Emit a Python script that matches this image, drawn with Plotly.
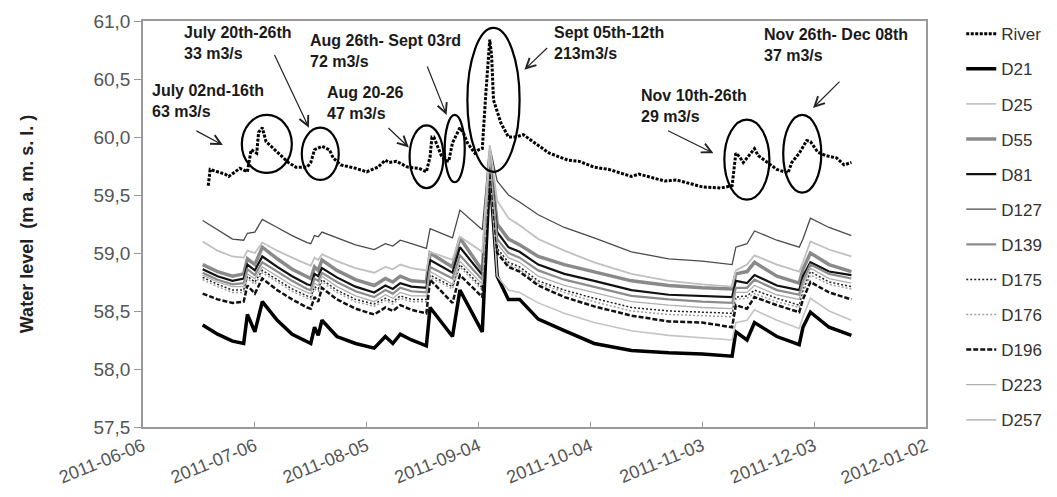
import plotly.graph_objects as go

# ---------------- data ----------------
dates = ["2011-06-22","2011-06-26","2011-06-30","2011-07-03","2011-07-04","2011-07-06","2011-07-08",
         "2011-07-12","2011-07-16","2011-07-20","2011-07-21","2011-07-22","2011-07-23","2011-07-24",
         "2011-07-28","2011-08-02","2011-08-07","2011-08-10","2011-08-12","2011-08-14","2011-08-17",
         "2011-08-21","2011-08-22","2011-08-28","2011-08-30","2011-09-05","2011-09-07","2011-09-09",
         "2011-09-12","2011-09-15","2011-09-20","2011-09-27","2011-10-05","2011-10-15","2011-10-25",
         "2011-11-03","2011-11-11","2011-11-12","2011-11-15","2011-11-17","2011-11-23","2011-11-29",
         "2011-11-30","2011-12-02","2011-12-07","2011-12-13"]

river_dates = ["2011-06-23 12:00","2011-06-24","2011-06-26","2011-06-28","2011-06-29","2011-07-02","2011-07-04",
               "2011-07-05","2011-07-06 12:00","2011-07-07","2011-07-08","2011-07-09","2011-07-11","2011-07-13",
               "2011-07-15","2011-07-17","2011-07-20","2011-07-21","2011-07-22","2011-07-24","2011-07-26",
               "2011-07-27","2011-07-29","2011-08-02","2011-08-05","2011-08-08","2011-08-10","2011-08-11",
               "2011-08-13","2011-08-16","2011-08-19","2011-08-21","2011-08-22","2011-08-22 12:00","2011-08-23",
               "2011-08-25","2011-08-26","2011-08-27","2011-08-28","2011-08-30","2011-08-31","2011-09-01",
               "2011-09-03","2011-09-04","2011-09-05","2011-09-06","2011-09-07","2011-09-07 12:00","2011-09-08",
               "2011-09-10","2011-09-12","2011-09-14","2011-09-16","2011-09-19","2011-09-23","2011-09-28",
               "2011-10-01","2011-10-05","2011-10-09","2011-10-15","2011-10-17","2011-10-24","2011-10-27",
               "2011-11-03","2011-11-08","2011-11-11","2011-11-11 12:00","2011-11-12","2011-11-13","2011-11-14",
               "2011-11-15","2011-11-17","2011-11-18","2011-11-20","2011-11-23","2011-11-26","2011-11-27",
               "2011-11-29","2011-12-01","2011-12-02","2011-12-04","2011-12-06","2011-12-09","2011-12-11",
               "2011-12-13"]
river = [59.58,59.72,59.70,59.68,59.66,59.73,59.70,
         59.89,59.86,60.04,60.08,59.96,59.90,59.84,
         59.78,59.74,59.74,59.78,59.89,59.92,59.89,
         59.82,59.76,59.73,59.70,59.74,59.80,59.78,
         59.79,59.74,59.73,59.70,59.83,60.00,60.00,
         59.84,59.80,59.79,59.95,60.08,60.03,59.95,
         59.86,59.89,59.90,60.40,60.84,60.70,60.32,
         60.12,60.00,60.00,60.02,59.95,59.86,59.80,
         59.79,59.74,59.72,59.66,59.68,59.62,59.63,
         59.57,59.56,59.58,59.74,59.86,59.83,59.78,
         59.82,59.90,59.84,59.79,59.72,59.69,59.78,
         59.86,59.97,59.96,59.87,59.84,59.82,59.76,
         59.78]

d21 = [58.38,58.30,58.24,58.22,58.47,58.32,58.58,58.42,58.30,58.23,
       58.22,58.36,58.29,58.42,58.28,58.22,58.18,58.28,58.22,58.30,
       58.25,58.20,58.53,58.28,58.68,58.32,59.72,58.80,58.60,58.60,
       58.43,58.33,58.22,58.16,58.14,58.13,58.11,58.32,58.25,58.40,
       58.28,58.21,58.36,58.49,58.36,58.29]
d25 = [None]*26 + [59.75,58.80,58.68,58.66,
       58.57,58.48,58.40,58.33,58.29,58.27,58.25,58.40,58.42,58.51,
       58.42,58.35,58.45,58.61,58.50,58.42]
d55 = [58.90,58.84,58.80,58.82,58.95,58.90,59.05,58.95,58.86,58.79,
       58.78,58.88,58.85,58.94,58.85,58.77,58.72,58.78,58.75,58.80,
       58.76,58.75,59.00,58.88,59.13,58.85,59.85,59.25,59.12,59.07,
       58.97,58.90,58.84,58.76,58.72,58.70,58.69,58.82,58.84,58.92,
       58.80,58.74,58.86,59.00,58.90,58.84]
d81 = [58.86,58.80,58.76,58.78,58.90,58.85,58.97,58.88,58.80,58.73,
       58.72,58.82,58.80,58.87,58.79,58.71,58.66,58.72,58.69,58.74,
       58.71,58.70,58.94,58.83,59.05,58.81,59.82,59.18,59.05,59.01,
       58.90,58.82,58.76,58.68,58.64,58.63,58.62,58.76,58.74,58.81,
       58.72,58.68,58.80,58.92,58.84,58.81]
d127 = [59.28,59.20,59.12,59.11,59.17,59.18,59.29,59.22,59.15,59.09,
        59.08,59.15,59.14,59.18,59.13,59.07,59.03,59.08,59.06,59.11,
        59.08,59.04,59.21,59.13,59.37,59.20,59.92,59.62,59.50,59.44,
        59.33,59.22,59.13,59.01,58.95,58.93,58.90,59.05,59.08,59.19,
        59.11,59.05,59.12,59.30,59.22,59.15]
d139 = [58.83,58.77,58.73,58.74,58.86,58.81,58.92,58.84,58.76,58.69,
        58.68,58.78,58.76,58.83,58.75,58.67,58.62,58.68,58.65,58.70,
        58.67,58.66,58.88,58.78,58.98,58.77,59.82,59.12,59.00,58.96,
        58.85,58.77,58.71,58.63,58.60,58.58,58.57,58.70,58.70,58.77,
        58.68,58.64,58.76,58.90,58.82,58.78]
d175 = [58.79,58.73,58.68,58.68,58.80,58.75,58.85,58.77,58.69,58.63,
        58.62,58.71,58.69,58.77,58.68,58.60,58.56,58.61,58.58,58.63,
        58.60,58.60,58.81,58.71,58.90,58.70,59.80,59.04,58.92,58.88,
        58.76,58.68,58.61,58.53,58.50,58.49,58.48,58.62,58.63,58.68,
        58.61,58.55,58.68,58.84,58.75,58.71]
d176 = [58.77,58.71,58.66,58.66,58.78,58.73,58.83,58.75,58.67,58.61,
        58.60,58.69,58.67,58.75,58.66,58.58,58.54,58.59,58.56,58.61,
        58.58,58.58,58.79,58.69,58.88,58.68,59.80,59.02,58.90,58.86,
        58.74,58.66,58.58,58.50,58.47,58.46,58.45,58.60,58.61,58.65,
        58.58,58.53,58.66,58.81,58.73,58.69]
d196 = [58.65,58.60,58.57,58.58,58.72,58.65,58.78,58.68,58.60,58.53,
        58.52,58.62,58.58,58.70,58.60,58.52,58.47,58.53,58.50,58.55,
        58.51,58.48,58.77,58.57,58.81,58.62,59.78,59.00,58.88,58.84,
        58.72,58.62,58.54,58.46,58.41,58.40,58.36,58.55,58.52,58.62,
        58.55,58.49,58.60,58.75,58.66,58.60]
d223 = [58.81,58.75,58.71,58.71,58.82,58.78,58.88,58.80,58.72,58.66,
        58.65,58.74,58.72,58.80,58.71,58.63,58.58,58.64,58.61,58.66,
        58.63,58.63,58.84,58.73,58.93,58.73,59.84,59.08,58.96,58.92,
        58.80,58.72,58.66,58.58,58.55,58.53,58.52,58.66,58.66,58.72,
        58.64,58.60,58.72,58.87,58.78,58.74]
d257 = [59.10,59.02,58.97,58.96,59.02,59.00,59.09,59.02,58.96,58.90,
        58.89,58.96,58.94,58.99,58.93,58.87,58.83,58.88,58.86,58.90,
        58.87,58.85,59.01,58.94,59.14,59.01,59.93,59.45,59.30,59.24,
        59.12,59.02,58.92,58.82,58.76,58.73,58.71,58.85,58.90,58.98,
        58.90,58.84,58.92,59.10,59.03,58.97]

series_names = ["D21","D25","D55","D81","D127","D139","D175","D176","D196","D223","D257"]
series_values = [d21, d25, d55, d81, d127, d139, d175, d176, d196, d223, d257]
series_styles = {
    "D21":  dict(color="#000000", width=3.5, dash="solid"),
    "D25":  dict(color="#c4c4c4", width=1.6, dash="solid"),
    "D55":  dict(color="#8a8a8a", width=3.5, dash="solid"),
    "D81":  dict(color="#111111", width=2.2, dash="solid"),
    "D127": dict(color="#4a4a4a", width=1.3, dash="solid"),
    "D139": dict(color="#8c8c8c", width=2.2, dash="solid"),
    "D175": dict(color="#222222", width=1.5, dash="2px,2px"),
    "D176": dict(color="#a0a0a0", width=1.5, dash="2px,2px"),
    "D196": dict(color="#111111", width=2.5, dash="5px,2px"),
    "D223": dict(color="#b0b0b0", width=1.3, dash="solid"),
    "D257": dict(color="#c0c0c0", width=1.8, dash="solid"),
}

# annotation texts: (text, x, y) top-left anchor
labels = [
    ("July 02nd-16th<br>63 m3/s", "2011-06-07 21:00", 60.49),
    ("July 20th-26th<br>33 m3/s", "2011-06-16 11:00", 60.99),
    ("Aug 20-26<br>47 m3/s", "2011-07-24 18:00", 60.47),
    ("Aug 26th- Sept 03rd<br>72 m3/s", "2011-07-20 05:00", 60.92),
    ("Sept 05th-12th<br>213m3/s", "2011-09-23 19:00", 60.99),
    ("Nov 10th-26th<br>29 m3/s", "2011-10-17 03:00", 60.45),
    ("Nov 26th- Dec 08th<br>37 m3/s", "2011-11-19 00:00", 60.97),
]
# arrows: head (x, y), tail (ax, ay)
arrows = [
    ("2011-06-27 10:00", 59.93, "2011-06-19 22:00", 60.06),
    ("2011-07-20 12:00", 60.08, "2011-07-11 02:00", 60.72),
    ("2011-08-16 07:00", 59.91, "2011-08-10 10:00", 60.09),
    ("2011-08-26 10:00", 60.19, "2011-08-21 02:00", 60.62),
    ("2011-09-16 07:00", 60.58, "2011-09-22 19:00", 60.78),
    ("2011-11-06 00:00", 59.86, "2011-10-24 10:00", 60.06),
    ("2011-12-02 17:00", 60.25, "2011-12-10 05:00", 60.49),
]
# ellipses: x0, x1, y0, y1
ellipses = [
    ("2011-07-02 12:00", "2011-07-15 22:00", 59.69, 60.19),
    ("2011-07-18 14:00", "2011-07-28 12:00", 59.63, 60.08),
    ("2011-08-16 12:00", "2011-08-25 14:00", 59.56, 60.10),
    ("2011-08-25 22:00", "2011-08-31 07:00", 59.61, 60.19),
    ("2011-09-01 00:00", "2011-09-15 00:00", 59.70, 60.94),
    ("2011-11-08 22:00", "2011-11-21 00:00", 59.46, 60.15),
    ("2011-11-24 17:00", "2011-12-04 22:00", 59.52, 60.19),
]

y_ticks = [57.5, 58.0, 58.5, 59.0, 59.5, 60.0, 60.5, 61.0]

# ---------------- figure ----------------
fig = go.Figure()
fig.add_trace(go.Scatter(x=river_dates, y=river, mode="lines", name="River",
                         line=dict(color="black", width=3, dash="3px,1.5px"),
                         legendgroup="River"))
for name, vals in zip(series_names, series_values):
    st = series_styles[name]
    fig.add_trace(go.Scatter(x=dates, y=vals, mode="lines", name=name,
                             line=dict(color=st["color"], width=st["width"], dash=st["dash"]),
                             legendgroup=name, connectgaps=False))

for x0, x1, y0, y1 in ellipses:
    fig.add_shape(type="circle", xref="x", yref="y", x0=x0, x1=x1, y0=y0, y1=y1,
                  line=dict(color="black", width=2.2))

for hx, hy, tx, ty in arrows:
    fig.add_annotation(x=hx, y=hy, ax=tx, ay=ty, xref="x", yref="y", axref="x", ayref="y",
                       text="", showarrow=True, arrowhead=5, arrowsize=1.6, arrowwidth=1.2,
                       arrowcolor="#222222")

for txt, x, y in labels:
    fig.add_annotation(x=x, y=y, xref="x", yref="y", text="<b>" + txt + "</b>", showarrow=False,
                       xanchor="left", yanchor="top", align="left",
                       font=dict(family="Liberation Sans, Arial, sans-serif", size=16, color="#1a1a1a"))

fig.update_layout(
    width=1049, height=489,
    margin=dict(l=135, r=131, t=13, b=70, autoexpand=False),
    paper_bgcolor="white", plot_bgcolor="white",
    separators=", ",
    font=dict(family="Liberation Sans, Arial, sans-serif", size=14, color="#555555"),
    legend=dict(x=1.045, y=1.012, xanchor="left", yanchor="top", tracegroupgap=10,
                font=dict(size=17, color="#333333"), bgcolor="rgba(0,0,0,0)", itemwidth=30,
                maxheight=1.0),
    showlegend=True,
)
fig.update_xaxes(type="date", range=["2011-06-06", "2012-01-02"],
                 tick0="2011-06-06", dtick=30 * 86400000, tickformat="%Y-%m-%d",
                 tickangle=-22, ticks="inside", ticklen=5, tickcolor="#999999",
                 showline=True, linecolor="#999999", linewidth=1.5, mirror=True,
                 showgrid=False, zeroline=False,
                 tickfont=dict(size=18, color="#555555"))
fig.update_yaxes(range=[57.5, 61.0], tickvals=y_ticks, tickformat=".1f",
                 ticks="outside", ticklen=7, tickcolor="#999999",
                 showline=True, linecolor="#999999", linewidth=1.5, mirror=True,
                 showgrid=False, zeroline=False,
                 tickfont=dict(size=19, color="#555555"),
                 title=dict(text="<b>Water level  (m a. m. s. l. )</b>", standoff=55,
                            font=dict(size=18, color="#222222")))

fig.write_html("out.html")
